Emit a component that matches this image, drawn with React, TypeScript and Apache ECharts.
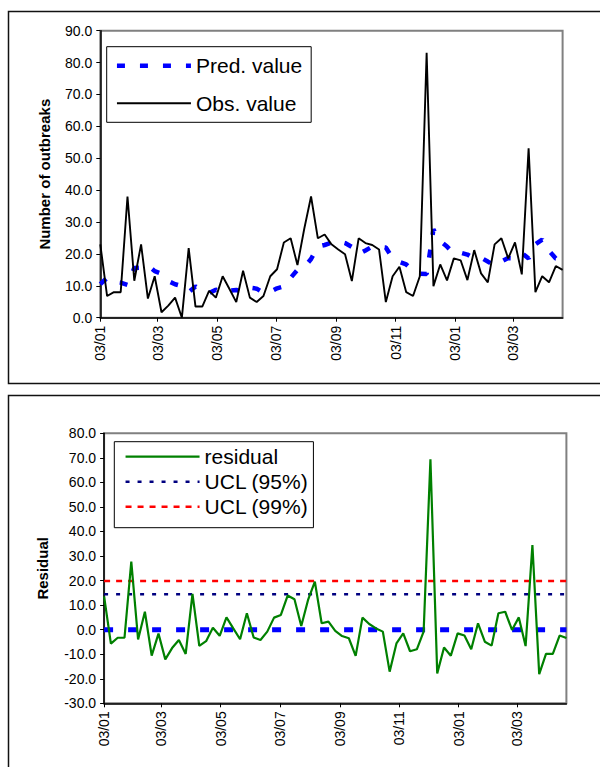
import { useEffect, useRef } from 'react';
import * as echarts from 'echarts';

const FONT = "Arial, 'Liberation Sans', sans-serif";

// weekly observations, x measured in days from the first week
const weekCount = 69;
const daysPerWeek = 7;
const tickDays = [0, 59, 120, 181, 243, 304, 365, 425];
const tickLabels = ['03/01', '03/03', '03/05', '03/07', '03/09', '03/11', '03/01', '03/03'];

const observed = [
  23.0, 6.8, 8.0, 8.0, 38.0, 11.6, 23.0, 6.0, 13.0, 1.7,
  3.8, 6.3, 0.0, 21.8, 3.5, 3.5, 8.4, 6.3, 13.0, 9.0,
  4.9, 14.7, 6.3, 4.9, 6.8, 13.0, 15.2, 23.6, 24.9, 16.5,
  27.9, 38.0, 24.9, 26.1, 23.0, 21.4, 19.9, 11.5, 24.9, 23.4,
  22.8, 21.4, 4.9, 13.0, 16.0, 8.0, 6.8, 13.0, 83.1, 9.9,
  16.7, 11.7, 18.6, 18.0, 11.8, 21.2, 13.9, 11.1, 23.0, 24.9,
  18.6, 23.6, 13.6, 53.1, 8.0, 13.0, 11.1, 16.2, 15.0,
];

const predicted = [
  10.5, 12.5, 11.3, 11.0, 10.3, 15.6, 15.7, 16.4, 14.6, 13.8,
  11.5, 10.5, 9.9, 8.0, 9.8, 8.4, 7.7, 8.8, 8.0, 8.5,
  8.7, 8.0, 9.4, 9.1, 7.8, 8.1, 9.2, 9.8, 12.5, 15.0,
  15.8, 18.4, 22.3, 22.8, 23.5, 24.0, 23.4, 22.2, 20.0, 21.1,
  22.3, 22.2, 22.0, 18.6, 17.5, 16.7, 14.8, 13.8, 13.7, 27.7,
  24.0, 22.3, 20.1, 20.4, 19.8, 18.6, 18.8, 17.6, 16.3, 17.6,
  18.7, 18.6, 20.3, 18.6, 23.0, 24.5, 21.0, 18.6, 18.4,
];

const residual = [
  13.6, -5.7, -3.3, -3.3, 27.7, -4.0, 7.3, -10.6, -1.6, -12.1,
  -7.5, -4.2, -9.9, 14.6, -6.6, -4.7, 0.8, -2.5, 5.0, 0.5,
  -3.9, 6.7, -3.2, -4.2, -0.8, 4.9, 6.0, 13.9, 12.4, 1.5,
  12.1, 19.6, 2.6, 3.3, -0.5, -2.6, -3.5, -10.7, 4.9, 2.3,
  0.5, -0.8, -17.1, -5.6, -1.5, -8.8, -8.0, -0.8, 69.4, -17.8,
  -7.3, -10.6, -1.5, -2.4, -8.0, 2.6, -4.9, -6.5, 6.7, 7.3,
  -0.1, 5.0, -6.7, 34.5, -18.1, -9.9, -9.9, -2.4, -3.4,
];

const ucl95 = 14.4;
const ucl99 = 19.8;
const baseline = 0;

const topY = { min: 0, max: 90, interval: 10 };
const bottomY = { min: -30, max: 80, interval: 10 };

const xMax = (weekCount - 1) * daysPerWeek;
const toPoints = (arr: number[]) => arr.map((v, i) => [i * daysPerWeek, v]);
const flat = (v: number) => [[0, v], [xMax, v]];

function xAxis(gridIndex: number) {
  return {
    type: 'value',
    gridIndex,
    min: 0,
    max: xMax,
    axisLine: { show: true, onZero: false, lineStyle: { color: '#000', width: 1.5 } },
    axisTick: { show: true, customValues: tickDays, length: 4, lineStyle: { color: '#000', width: 1 } },
    axisLabel: {
      customValues: tickDays,
      rotate: 90,
      margin: 8,
      fontSize: 14,
      color: '#000',
      fontFamily: FONT,
      formatter: (v: number) => {
        const k = tickDays.indexOf(Math.round(v));
        return k >= 0 ? tickLabels[k] : '';
      },
    },
    splitLine: { show: false },
  };
}

function yAxis(gridIndex: number, range: any, name: string, nameGap: number) {
  return {
    type: 'value',
    gridIndex,
    min: range.min,
    max: range.max,
    interval: range.interval,
    name,
    nameLocation: 'middle',
    nameGap,
    nameTextStyle: { fontWeight: 'bold', fontSize: 15, fontFamily: FONT, color: '#000' },
    axisLine: { show: true, onZero: false, lineStyle: { color: '#000', width: 1.5 } },
    axisTick: { show: true, length: 4, lineStyle: { color: '#000', width: 1 } },
    axisLabel: {
      formatter: (v: number) => v.toFixed(1),
      fontSize: 14,
      color: '#000',
      fontFamily: FONT,
      margin: 8,
    },
    splitLine: { show: false },
  };
}

const legendBase = {
  orient: 'vertical',
  selectedMode: false,
  backgroundColor: '#fff',
  borderColor: '#000',
  borderWidth: 1,
  itemHeight: 14,
  itemWidth: 74,
  itemStyle: { opacity: 0, borderWidth: 0 },
  lineStyle: { width: 'inherit' },
  textStyle: { fontSize: 21, lineHeight: 24, color: '#000', fontFamily: FONT },
};

export default function App() {
  const ref = useRef<HTMLDivElement>(null);

  useEffect(() => {
    if (!ref.current) return;
    const chart = echarts.init(ref.current, undefined, { renderer: 'svg' });
    chart.setOption({
      animation: false,
      backgroundColor: '#fff',
      textStyle: { fontFamily: FONT },
      graphic: [
        {
          type: 'rect', silent: true, z: -10,
          shape: { x: 8.5, y: 11.5, width: 640, height: 372 },
          style: { fill: 'none', stroke: '#111', lineWidth: 1.5 },
        },
        {
          type: 'rect', silent: true, z: -10,
          shape: { x: 8.5, y: 395.5, width: 640, height: 420 },
          style: { fill: 'none', stroke: '#111', lineWidth: 1.5 },
        },
      ],
      grid: [
        { left: 100.3, top: 30.7, width: 462.3, height: 287, show: true, borderColor: '#808080', borderWidth: 2 },
        { left: 104.1, top: 433.3, width: 462.3, height: 270, show: true, borderColor: '#808080', borderWidth: 2 },
      ],
      xAxis: [xAxis(0), xAxis(1)],
      yAxis: [
        yAxis(0, topY, 'Number of outbreaks', 48),
        yAxis(1, bottomY, 'Residual', 54),
      ],
      legend: [
        {
          ...legendBase,
          data: ['Pred. value', 'Obs. value'],
          left: 106.7,
          top: 46.7,
          padding: [7, 9, 7, 8],
          itemGap: 13.6,
        },
        {
          ...legendBase,
          data: ['residual', 'UCL (95%)', 'UCL (99%)'],
          left: 114.3,
          top: 441.7,
          padding: [3, 5, 9, 10],
          itemGap: 1,
        },
      ],
      series: [
        {
          name: 'Pred. value', type: 'line', xAxisIndex: 0, yAxisIndex: 0,
          data: toPoints(predicted), symbol: 'none', z: 2,
          lineStyle: { color: '#0000FF', width: 4.5, type: [8, 15], dashOffset: 0 },
          itemStyle: { color: '#0000FF' },
        },
        {
          name: 'Obs. value', type: 'line', xAxisIndex: 0, yAxisIndex: 0,
          data: toPoints(observed), symbol: 'none', z: 3,
          lineStyle: { color: '#000', width: 1.9 },
          itemStyle: { color: '#000' },
        },
        {
          name: 'zero', type: 'line', xAxisIndex: 1, yAxisIndex: 1,
          data: flat(baseline), symbol: 'none', z: 2,
          lineStyle: { color: '#0000FF', width: 5, type: [9, 15] },
          itemStyle: { color: '#0000FF' },
        },
        {
          name: 'UCL (95%)', type: 'line', xAxisIndex: 1, yAxisIndex: 1,
          data: flat(ucl95), symbol: 'none', z: 2,
          lineStyle: { color: '#000080', width: 2.5, type: [4, 8] },
          itemStyle: { color: '#000080' },
        },
        {
          name: 'UCL (99%)', type: 'line', xAxisIndex: 1, yAxisIndex: 1,
          data: flat(ucl99), symbol: 'none', z: 2,
          lineStyle: { color: '#FF0000', width: 2.5, type: [6, 6] },
          itemStyle: { color: '#FF0000' },
        },
        {
          name: 'residual', type: 'line', xAxisIndex: 1, yAxisIndex: 1,
          data: toPoints(residual), symbol: 'none', z: 3,
          lineStyle: { color: '#008000', width: 2.2 },
          itemStyle: { color: '#008000' },
        },
      ],
    });
    return () => chart.dispose();
  }, []);

  return (
    <div
      ref={ref}
      style={{ position: 'absolute', left: 0, top: 0, width: 600, height: 767, background: '#fff' }}
    />
  );
}
